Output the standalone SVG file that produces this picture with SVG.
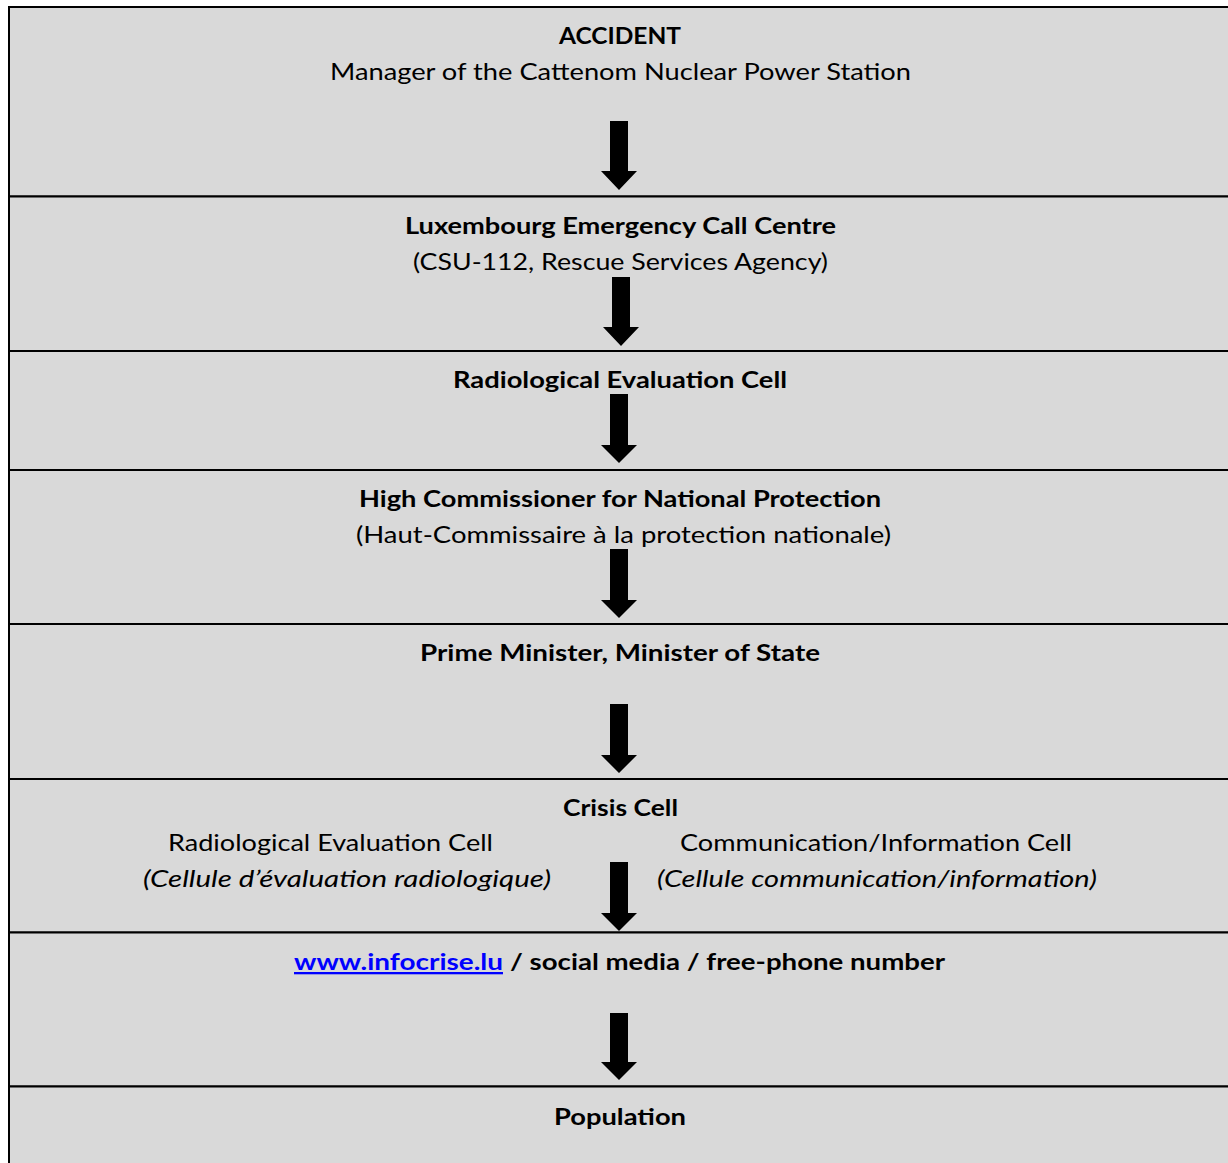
<svg xmlns="http://www.w3.org/2000/svg" width="1228" height="1163" viewBox="0 0 1228 1163">
<style>
.band{fill:#d9d9d9;stroke:#000;stroke-width:2}
text{font-family:Lato,"Open Sans","Liberation Sans",sans-serif;font-size:23px;fill:#000}
.c{text-anchor:middle}
.b{font-weight:bold}
.i{font-style:italic}
.link{fill:#0000ff;text-decoration:underline}
.arrow{fill:#000}
</style>
<rect x="0" y="0" width="1228" height="1163" fill="#fff"/>
<g id="node-accident">
<rect class="band" x="9" y="7" width="1230" height="189.5"/>
<text class="c b" x="620" y="44" textLength="122" lengthAdjust="spacingAndGlyphs">ACCIDENT</text>
<text class="c" x="620.5" y="80" textLength="581" lengthAdjust="spacingAndGlyphs">Manager of the Cattenom Nuclear Power Station</text>
</g>
<g id="node-callcentre">
<rect class="band" x="9" y="196.5" width="1230" height="154.5"/>
<text class="c b" x="620.5" y="234" textLength="431" lengthAdjust="spacingAndGlyphs">Luxembourg Emergency Call Centre</text>
<text class="c" x="620.5" y="270" textLength="415" lengthAdjust="spacingAndGlyphs">(CSU-112, Rescue Services Agency)</text>
</g>
<g id="node-radiological">
<rect class="band" x="9" y="351" width="1230" height="119"/>
<text class="c b" x="620" y="388" textLength="334" lengthAdjust="spacingAndGlyphs">Radiological Evaluation Cell</text>
</g>
<g id="node-highcommissioner">
<rect class="band" x="9" y="470" width="1230" height="154"/>
<text class="c b" x="620" y="507" textLength="522" lengthAdjust="spacingAndGlyphs">High Commissioner for National Protection</text>
<text class="c" x="623.5" y="543" textLength="535" lengthAdjust="spacingAndGlyphs">(Haut-Commissaire à la protection nationale)</text>
</g>
<g id="node-primeminister">
<rect class="band" x="9" y="624" width="1230" height="155"/>
<text class="c b" x="620" y="661" textLength="400" lengthAdjust="spacingAndGlyphs">Prime Minister, Minister of State</text>
</g>
<g id="node-crisiscell">
<rect class="band" x="9" y="779" width="1230" height="153.5"/>
<text class="c b" x="620.5" y="816" textLength="115" lengthAdjust="spacingAndGlyphs">Crisis Cell</text>
<text class="c" x="330.5" y="851" textLength="325" lengthAdjust="spacingAndGlyphs">Radiological Evaluation Cell</text>
<text class="c i" x="347" y="887" textLength="408" lengthAdjust="spacingAndGlyphs">(Cellule d’évaluation radiologique)</text>
<text class="c" x="876" y="851" textLength="392" lengthAdjust="spacingAndGlyphs">Communication/Information Cell</text>
<text class="c i" x="877" y="887" textLength="440" lengthAdjust="spacingAndGlyphs">(Cellule communication/information)</text>
</g>
<g id="node-channels">
<rect class="band" x="9" y="932.5" width="1230" height="154"/>
<text class="b link" x="294" y="970" textLength="209" lengthAdjust="spacingAndGlyphs">www.infocrise.lu</text>
<text class="b" x="510" y="970" textLength="435" lengthAdjust="spacingAndGlyphs">/ social media / free-phone number</text>
</g>
<g id="node-population">
<rect class="band" x="9" y="1086.5" width="1230" height="90"/>
<text class="c b" x="620" y="1125" textLength="132" lengthAdjust="spacingAndGlyphs">Population</text>
</g>
<g id="connectors">
<polygon class="arrow" points="610,121 628,121 628,171 637,171 619,190 601,171 610,171"/>
<polygon class="arrow" points="612,277 630,277 630,327 639,327 621,346 603,327 612,327"/>
<polygon class="arrow" points="610,394 628,394 628,445 637,445 619,463 601,445 610,445"/>
<polygon class="arrow" points="610,549 628,549 628,600 637,600 619,618 601,600 610,600"/>
<polygon class="arrow" points="610,704 628,704 628,755 637,755 619,773 601,755 610,755"/>
<polygon class="arrow" points="610,862 628,862 628,913 637,913 619,931 601,913 610,913"/>
<polygon class="arrow" points="610,1013 628,1013 628,1062 637,1062 619,1080 601,1062 610,1062"/>
</g>
</svg>
